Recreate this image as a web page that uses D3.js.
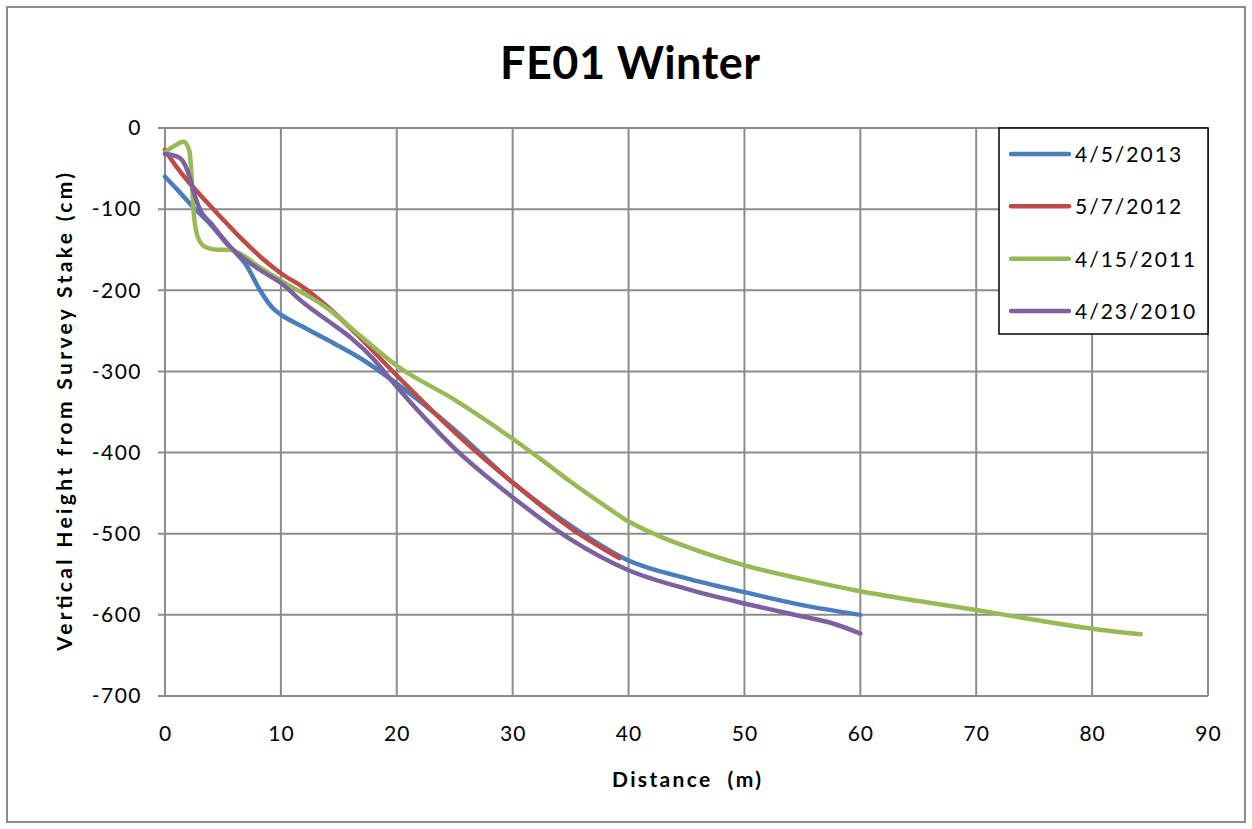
<!DOCTYPE html>
<html><head><meta charset="utf-8">
<script src="https://cdn.jsdelivr.net/npm/d3@7"></script>
<style>body{margin:0;background:#fff;} svg{display:block;} text{white-space:pre;}</style>
</head><body>
<svg id="c" width="1252" height="829"></svg>
<script>
const title = "FE01 Winter";
const xTitle = "Distance  (m)";
const yTitle = "Vertical Height from Survey Stake (cm)";
const xTicks = [0,10,20,30,40,50,60,70,80,90];
const yTicks = [0,-100,-200,-300,-400,-500,-600,-700];
const seriesNames = ["4/5/2013","5/7/2012","4/15/2011","4/23/2010"];
const seriesColors = ["#4A7EBB","#BE4B48","#98B954","#7D60A0"];

const s2013 = [[0,-60],[1,-75],[2.4,-97],[4,-120],[5.3,-142],[7.1,-171],[8.2,-200],[9.3,-222],[10,-230],[11.9,-245],[14,-261],[17,-285],[20,-315],[25,-372],[30,-437],[35,-490],[40,-533],[45,-555],[50,-572],[55,-588],[60,-600]];
const s2012 = [[0,-27],[1,-48],[2,-66],[3,-82],[4.5,-105],[6.7,-138],[8.5,-162],[10,-179],[12,-197],[14,-220],[16.8,-258],[20,-305],[25,-375],[30,-437],[35,-493],[39.2,-530]];
const s2011 = [[0,-30],[0.8,-22],[1.6,-17],[2.1,-28],[2.3,-60],[2.45,-100],[2.8,-133],[3.4,-146],[4.5,-150],[5.5,-150],[6.5,-155],[8,-170],[10,-188],[14,-222],[17,-258],[20,-293],[25,-335],[30,-383],[32.5,-409],[35,-436],[37.5,-461],[40,-485],[42.5,-502],[45,-516],[50,-539],[55,-556],[60,-571],[65,-583],[70,-594],[75,-606],[80,-617],[84.2,-624]];
const s2010 = [[0,-32],[1,-35],[1.5,-40],[2,-55],[2.5,-80],[3,-100],[4,-118],[5.6,-146],[8.2,-175],[10,-191],[12,-216],[14,-237],[16,-258],[18,-285],[20,-319],[25,-395],[30,-455],[35,-507],[40,-545],[45,-568],[50,-586],[55,-602],[57.5,-610],[60,-623]];
const seriesData = [s2013, s2012, s2011, s2010];

const svg = d3.select("#c");
const font = "Lato, 'Open Sans', sans-serif";
const L = 165, R = 1208, T = 128, B = 696;
const x = d3.scaleLinear().domain([0,90]).range([L,R]);
const y = d3.scaleLinear().domain([-700,0]).range([B,T]);

svg.append("rect").attr("x",7).attr("y",7).attr("width",1238).attr("height",815)
  .attr("fill","#fff").attr("stroke","#8c8c8c").attr("stroke-width",2);

// grid
const grid = svg.append("g");
grid.selectAll(".gx").data(xTicks).join("line")
  .attr("x1",d=>x(d)).attr("x2",d=>x(d)).attr("y1",T).attr("y2",B)
  .attr("stroke","#8c8c8c").attr("stroke-width",2);
grid.selectAll(".gy").data(yTicks).join("line")
  .attr("x1",L-7).attr("x2",R).attr("y1",d=>y(d)).attr("y2",d=>y(d))
  .attr("stroke","#8c8c8c").attr("stroke-width",2);

// axes labels
const fmt = d => String(d);
const xAxis = d3.axisBottom(x).tickValues(xTicks).tickFormat(fmt).tickSize(0).tickPadding(30);
const gx = svg.append("g").attr("transform",`translate(0,${B})`).call(xAxis);
gx.select(".domain").remove();
gx.selectAll("text").attr("font-family",font).attr("font-size",21).attr("letter-spacing",1).attr("fill","#000");
const yAxis = d3.axisLeft(y).tickValues(yTicks).tickFormat(fmt).tickSize(0).tickPadding(23);
const gy = svg.append("g").attr("transform",`translate(${L},0)`).call(yAxis);
gy.select(".domain").remove();
gy.selectAll("text").attr("font-family",font).attr("font-size",21).attr("letter-spacing",1.5).attr("fill","#000");

// lines
const line = d3.line().x(d=>x(d[0])).y(d=>y(d[1])).curve(d3.curveMonotoneX);
svg.append("g").selectAll("path").data(seriesData).join("path")
  .attr("d",line).attr("fill","none")
  .attr("stroke",(d,i)=>seriesColors[i]).attr("stroke-width",4.5)
  .attr("stroke-linecap","round").attr("stroke-linejoin","round");

// titles
svg.append("text").attr("x",630).attr("y",79).attr("text-anchor","middle")
  .attr("font-family",font).attr("font-weight","bold").attr("font-size",45)
  .attr("textLength",260).attr("lengthAdjust","spacing").text(title);
svg.append("text").attr("x",(L+R)/2).attr("y",787).attr("text-anchor","middle")
  .attr("font-family",font).attr("font-weight","bold").attr("font-size",21)
  .attr("textLength",149).attr("lengthAdjust","spacing").text(xTitle);
svg.append("text").attr("transform",`translate(72,${(T+B)/2}) rotate(-90)`).attr("text-anchor","middle")
  .attr("font-family",font).attr("font-weight","bold").attr("font-size",21)
  .attr("textLength",478).attr("lengthAdjust","spacing").text(yTitle);

// legend
const lg = svg.append("g");
lg.append("rect").attr("x",999).attr("y",128).attr("width",209).attr("height",206)
  .attr("fill","#fff").attr("stroke","#000").attr("stroke-width",1.5);
const ly = d3.scalePoint().domain(seriesNames).range([154,311]);
seriesNames.forEach((n,i)=>{
  lg.append("line").attr("x1",1011).attr("x2",1069).attr("y1",ly(n)).attr("y2",ly(n))
    .attr("stroke",seriesColors[i]).attr("stroke-width",4.5).attr("stroke-linecap","round");
  lg.append("text").attr("x",1075).attr("y",ly(n)+8).attr("font-family",font)
    .attr("font-size",21).attr("letter-spacing",2).text(n);
});
</script>
</body></html>
